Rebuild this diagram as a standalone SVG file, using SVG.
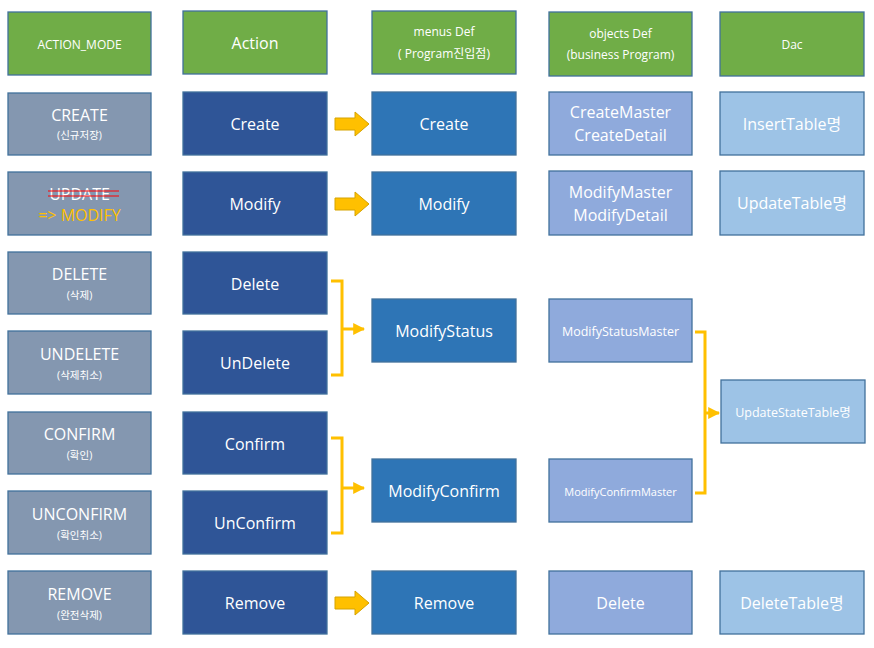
<svg xmlns="http://www.w3.org/2000/svg" width="874" height="648" viewBox="0 0 874 648">
<style>
.b{stroke-width:1.3}
.g{fill:#70AD47;stroke:#41719C}
.m{fill:#8497B0;stroke:#41719C}
.d{fill:#2F5597;stroke:#41719C}
.c{fill:#2E75B6;stroke:#41719C}
.o{fill:#8FAADC;stroke:#41719C}
.t{fill:#9DC3E6;stroke:#41719C}
text{font-family:"Open Sans","Noto Sans CJK KR",sans-serif;fill:#fff;text-anchor:middle;dominant-baseline:central}
.s17{font-size:16px}
.s13{font-size:12px}
.s11{font-size:10.5px}
.br{fill:none;stroke:#FFC000;stroke-width:3}
.ar{fill:#FFC000;stroke:#D6A300;stroke-width:1}
</style>
<defs>
<marker id="ah" viewBox="0 0 10 10" refX="9" refY="5" markerWidth="4" markerHeight="4" orient="auto"><path d="M0,0 L10,5 L0,10 z" fill="#FFC000"/></marker>
</defs>
<g id="h1"><rect class="g b" x="8" y="12" width="143" height="63"/><text class="s13" x="79.5" y="44">ACTION_MODE</text></g>
<g id="h2"><rect class="g b" x="183" y="11" width="144" height="63"/><text class="s17" x="255" y="43">Action</text></g>
<g id="h3"><rect class="g b" x="372" y="11" width="144" height="63"/><text class="s13" x="444" y="31">menus Def</text><text class="s13" x="444" y="53">( Program진입점)</text></g>
<g id="h4"><rect class="g b" x="549" y="12" width="143" height="64"/><text class="s13" x="620.5" y="33">objects Def</text><text class="s13" x="620.5" y="54">(business Program)</text></g>
<g id="h5"><rect class="g b" x="720" y="12" width="144" height="64"/><text class="s13" x="792" y="44">Dac</text></g>

<g id="am1"><rect class="m b" x="8" y="93" width="143" height="62"/><text class="s17" x="79.5" y="115">CREATE</text><text class="s11" x="79.5" y="135">(신규저장)</text></g>
<g id="am2"><rect class="m b" x="8" y="172" width="143" height="63"/><text class="s17" x="79.5" y="194">UPDATE</text><line x1="48" y1="191" x2="119" y2="191" stroke="#FF0000" stroke-width="1.2"/><line x1="48" y1="196" x2="119" y2="196" stroke="#FF0000" stroke-width="1.2"/><text class="s17" x="79.5" y="215" style="fill:#FFC000">=&gt; MODIFY</text></g>
<g id="am3"><rect class="m b" x="8" y="252" width="143" height="62"/><text class="s17" x="79.5" y="274">DELETE</text><text class="s11" x="79.5" y="295">(삭제)</text></g>
<g id="am4"><rect class="m b" x="8" y="331" width="143" height="63"/><text class="s17" x="79.5" y="354">UNDELETE</text><text class="s11" x="79.5" y="375">(삭제취소)</text></g>
<g id="am5"><rect class="m b" x="8" y="412" width="143" height="62"/><text class="s17" x="79.5" y="434">CONFIRM</text><text class="s11" x="79.5" y="455">(확인)</text></g>
<g id="am6"><rect class="m b" x="8" y="491" width="143" height="63"/><text class="s17" x="79.5" y="514">UNCONFIRM</text><text class="s11" x="79.5" y="535">(확인취소)</text></g>
<g id="am7"><rect class="m b" x="8" y="571" width="143" height="63"/><text class="s17" x="79.5" y="594">REMOVE</text><text class="s11" x="79.5" y="615">(완전삭제)</text></g>

<g id="a1"><rect class="d b" x="183" y="92" width="144" height="63"/><text class="s17" x="255" y="124">Create</text></g>
<g id="a2"><rect class="d b" x="183" y="172" width="144" height="63"/><text class="s17" x="255" y="204">Modify</text></g>
<g id="a3"><rect class="d b" x="183" y="252" width="144" height="62"/><text class="s17" x="255" y="284">Delete</text></g>
<g id="a4"><rect class="d b" x="183" y="331" width="144" height="63"/><text class="s17" x="255" y="363">UnDelete</text></g>
<g id="a5"><rect class="d b" x="183" y="412" width="144" height="62"/><text class="s17" x="255" y="444">Confirm</text></g>
<g id="a6"><rect class="d b" x="183" y="491" width="144" height="63"/><text class="s17" x="255" y="523">UnConfirm</text></g>
<g id="a7"><rect class="d b" x="183" y="571" width="144" height="63"/><text class="s17" x="255" y="603">Remove</text></g>

<g id="p1"><rect class="c b" x="372" y="92" width="144" height="63"/><text class="s17" x="444" y="124">Create</text></g>
<g id="p2"><rect class="c b" x="372" y="172" width="144" height="63"/><text class="s17" x="444" y="204">Modify</text></g>
<g id="p3"><rect class="c b" x="372" y="299" width="144" height="63"/><text class="s17" x="444" y="331">ModifyStatus</text></g>
<g id="p4"><rect class="c b" x="372" y="459" width="144" height="63"/><text class="s17" x="444" y="491">ModifyConfirm</text></g>
<g id="p5"><rect class="c b" x="372" y="571" width="144" height="63"/><text class="s17" x="444" y="603">Remove</text></g>

<g id="o1"><rect class="o b" x="549" y="92" width="143" height="63"/><text class="s17" x="620.5" y="112">CreateMaster</text><text class="s17" x="620.5" y="135">CreateDetail</text></g>
<g id="o2"><rect class="o b" x="549" y="171" width="143" height="64"/><text class="s17" x="620.5" y="192">ModifyMaster</text><text class="s17" x="620.5" y="215">ModifyDetail</text></g>
<g id="o3"><rect class="o b" x="549" y="299" width="143" height="63"/><text x="620.5" y="331" style="font-size:12.5px">ModifyStatusMaster</text></g>
<g id="o4"><rect class="o b" x="549" y="459" width="143" height="63"/><text x="620.5" y="491" style="font-size:11px">ModifyConfirmMaster</text></g>
<g id="o5"><rect class="o b" x="549" y="571" width="143" height="63"/><text class="s17" x="620.5" y="603">Delete</text></g>

<g id="t1"><rect class="t b" x="720" y="92" width="144" height="63"/><text class="s17" x="792" y="124">InsertTable명</text></g>
<g id="t2"><rect class="t b" x="720" y="171" width="144" height="64"/><text class="s17" x="792" y="203">UpdateTable명</text></g>
<g id="t3"><rect class="t b" x="721" y="380" width="144" height="63"/><text x="793" y="412" style="font-size:12.5px">UpdateStateTable명</text></g>
<g id="t4"><rect class="t b" x="720" y="571" width="144" height="63"/><text class="s17" x="792" y="603">DeleteTable명</text></g>

<g id="connectors">
<path class="ar" d="M335,118 H355 V112 L369,124 L355,136 V130 H335 Z"/>
<path class="ar" d="M335,198 H355 V192 L369,204 L355,216 V210 H335 Z"/>
<path class="ar" d="M335,597 H355 V591 L369,603 L355,615 V609 H335 Z"/>
<path class="br" d="M331,281 H342 V375 H331"/>
<path class="br" d="M342,329 H364" marker-end="url(#ah)"/>
<path class="br" d="M331,438 H342 V533 H331"/>
<path class="br" d="M342,488 H364" marker-end="url(#ah)"/>
<path class="br" d="M695,332 H705 V493 H695"/>
<path class="br" d="M705,413 H719" marker-end="url(#ah)"/>
</g>
</svg>
